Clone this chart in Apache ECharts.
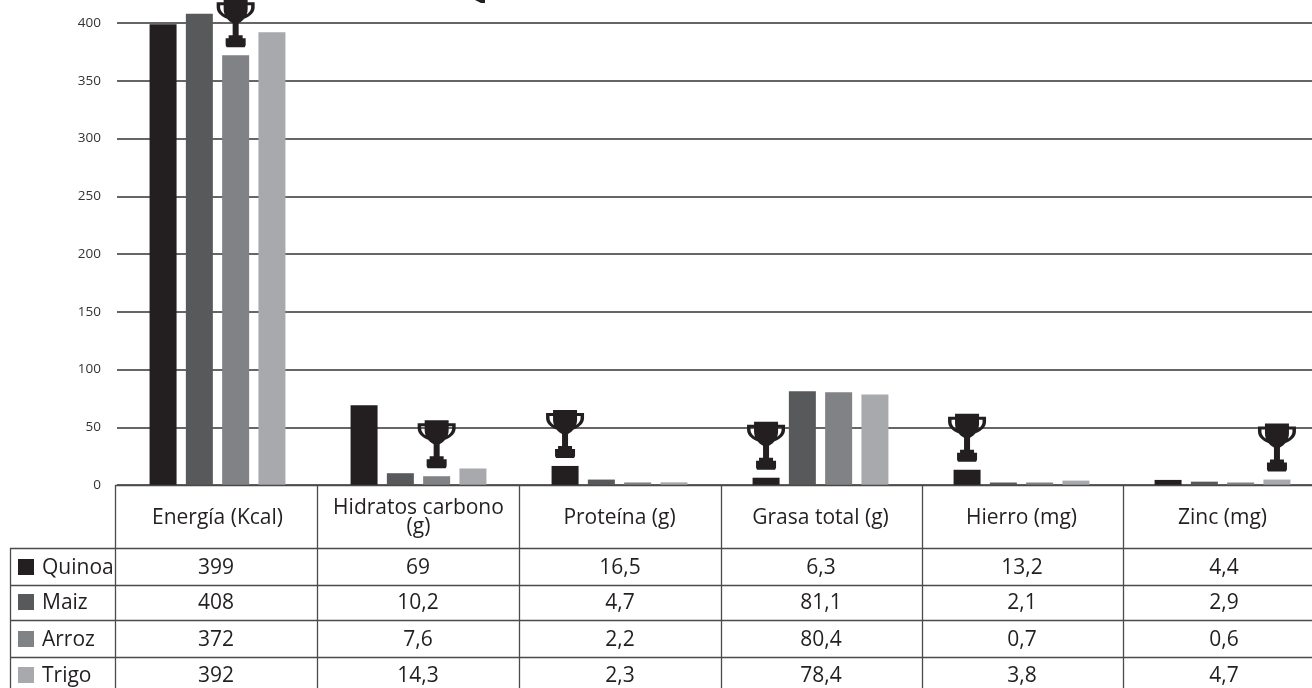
<!DOCTYPE html>
<html>
<head>
<meta charset="utf-8">
<style>html,body{margin:0;padding:0;background:#fff}#c{width:1312px;height:688px}</style>
<script src="https://cdn.jsdelivr.net/npm/echarts@6/dist/echarts.min.js"></script>
</head>
<body>
<div id="c"></div>
<script>
const categories = ['Energía (Kcal)', 'Hidratos carbono\n(g)', 'Proteína (g)', 'Grasa total (g)', 'Hierro (mg)', 'Zinc (mg)'];
const quinoa = [399, 69, 16.5, 6.3, 13.2, 4.4];
const maiz = [408, 10.2, 4.7, 81.1, 2.1, 2.9];
const arroz = [372, 7.6, 2.2, 80.4, 0.7, 0.6];
const trigo = [392, 14.3, 2.3, 78.4, 3.8, 4.7];
const seriesNames = ['Quinoa', 'Maiz', 'Arroz', 'Trigo'];
const seriesColors = ['#231f20', '#58595b', '#808285', '#a7a9ac'];
const seriesValues = [quinoa, maiz, arroz, trigo];
// index of the series that carries the trophy, per category
const trophySeries = [2, 2, 0, 0, 0, 3];

const FONT = '"Open Sans", sans-serif';
const INK = '#231f20';
const LINE = '#4a4a4a';
const TROPHY = 'M7 0H31V10C31 17 26 22 22 24V36H26V39H29V46L28 48H10L9 46V39H12V36H16V24C12 22 7 17 7 10Z' +
  'M8 3V6H3.5V8C3.5 12 7 15 11 17L12 20C6 18 0 14 0 8V3Z' +
  'M30 3H38V8C38 14 32 18 26 20L27 17C31 15 34.5 12 34.5 8V6H30Z';

const rowY = [548.5, 585.5, 620.5, 657.5];
const rowMid = [568, 603, 640, 676];
const colX = [115.5, 317.5, 519.5, 721.5, 922.5, 1123.5];
const colMid = [216, 418, 620, 821, 1022, 1224];

function hline(x1, x2, y) { return { type: 'line', silent: true, shape: { x1, y1: y, x2, y2: y }, style: { stroke: LINE, lineWidth: 1.3 }, z: 20 }; }
function vline(x, y1, y2) { return { type: 'line', silent: true, shape: { x1: x, y1, x2: x, y2 }, style: { stroke: LINE, lineWidth: 1.3 }, z: 20 }; }

const graphics = [hline(115, 1312, 485.5)];
rowY.forEach(y => graphics.push(hline(10, 1312, y)));
colX.forEach(x => graphics.push(vline(x, 485, 688)));
graphics.push(vline(10.5, 548, 688));
seriesNames.forEach((name, r) => {
  graphics.push({ type: 'rect', silent: true, shape: { x: 18, y: rowMid[r] - 9, width: 16, height: 16 }, style: { fill: seriesColors[r] }, z: 21 });
  graphics.push({ type: 'text', silent: true, style: { x: 42, y: rowMid[r], text: name, font: '21px ' + FONT, fill: INK, textAlign: 'left', textVerticalAlign: 'middle' }, z: 21 });
  seriesValues[r].forEach((v, c) => {
    graphics.push({ type: 'text', silent: true, style: { x: colMid[c], y: rowMid[r], text: String(v).replace('.', ','), font: '21px ' + FONT, fill: INK, textAlign: 'center', textVerticalAlign: 'middle' }, z: 21 });
  });
});
graphics.push({ type: 'polygon', silent: true, shape: { points: [[475, 0], [485, 0], [485, 3], [481, 3]] }, style: { fill: INK }, z: 21 });

const trophyData = trophySeries.map((s, c) => [c, seriesValues[s][c], s]);
const PITCH = 36.3;

const option = {
  animation: false,
  backgroundColor: '#fff',
  textStyle: { fontFamily: FONT },
  grid: { left: 117, top: 23, width: 1206, height: 462, containLabel: false, outerBoundsMode: 'none' },
  xAxis: {
    type: 'category',
    data: categories,
    axisLine: { show: false },
    axisTick: { show: false },
    axisLabel: { interval: 0, margin: 33, color: INK, fontSize: 21, fontFamily: FONT, lineHeight: 19, verticalAlign: 'middle', align: 'center' }
  },
  yAxis: {
    type: 'value',
    min: 0,
    max: 400,
    interval: 50,
    axisLine: { show: false },
    axisTick: { show: false },
    axisLabel: { margin: 16, color: '#333', fontSize: 13.5, fontFamily: FONT },
    splitLine: { show: true, lineStyle: { color: '#333', width: 1.5 } }
  },
  series: seriesNames.map((name, i) => ({
    name,
    type: 'bar',
    data: seriesValues[i],
    barWidth: 27,
    barGap: '34.4%',
    barMinHeight: 2.5,
    clip: false,
    itemStyle: { color: seriesColors[i] },
    z: 5
  })).concat([{
    type: 'custom',
    data: trophyData,
    clip: false,
    z: 10,
    encode: { x: 0, y: 1 },
    renderItem: function (params, api) {
      const p = api.coord([api.value(0), api.value(1)]);
      const s = api.value(2);
      const w = 38, h = 48, gap = 8;
      return {
        type: 'path',
        shape: { pathData: TROPHY, layout: 'cover', x: p[0] + (s - 1.5) * PITCH - w / 2, y: p[1] - gap - h, width: w, height: h },
        style: { fill: INK }
      };
    }
  }]),
  graphic: graphics
};
echarts.init(document.getElementById('c'), null, { renderer: 'canvas' }).setOption(option);
</script>
</body>
</html>
